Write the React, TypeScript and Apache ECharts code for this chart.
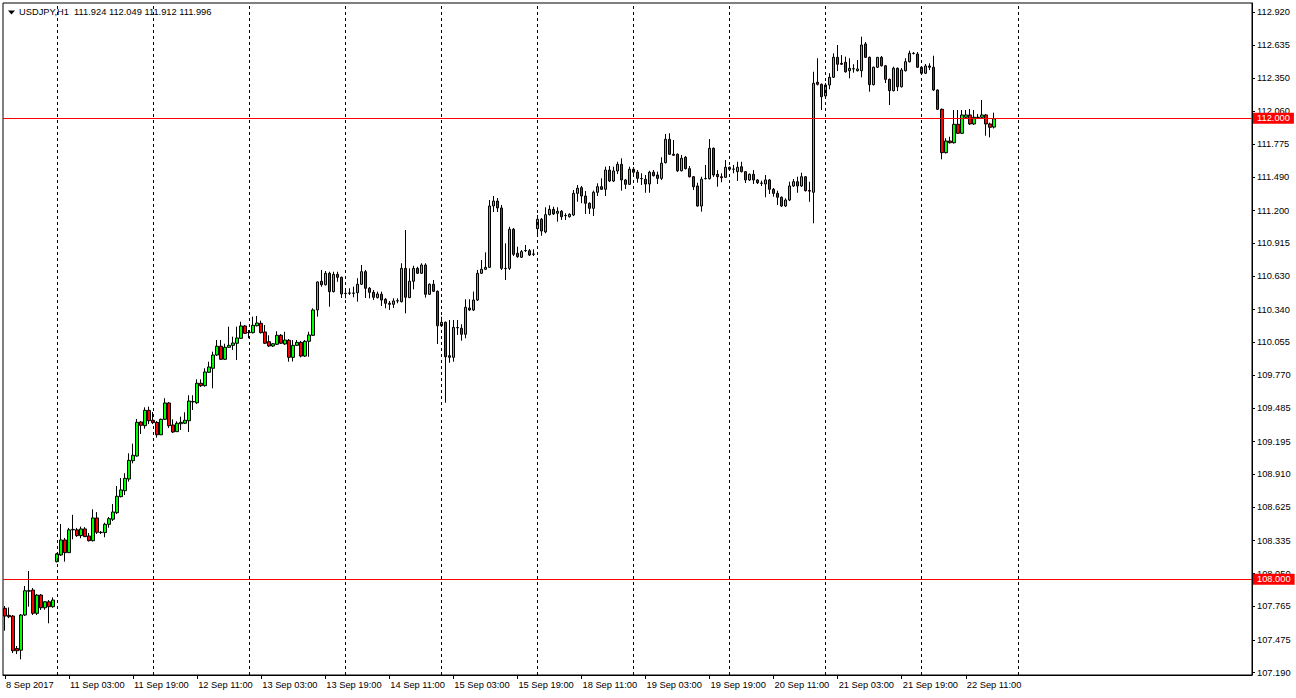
import React, { useEffect, useRef } from 'react';
import * as echarts from 'echarts';

// ---- Data (USDJPY H1) ----
const opens = [
  107.748, 107.687, 107.681, 107.400, 107.385, 107.690, 107.901, 107.907, 107.705, 107.863,
  107.753, 107.805, 107.762, 108.153, 108.211, 108.341, 108.231, 108.429, 108.429, 108.379,
  108.437, 108.376, 108.335, 108.532, 108.408, 108.405, 108.477, 108.521, 108.578, 108.717,
  108.769, 108.870, 109.029, 109.070, 109.365, 109.333, 109.466, 109.380, 109.362, 109.254,
  109.388, 109.530, 109.339, 109.281, 109.350, 109.354, 109.376, 109.539, 109.532, 109.701,
  109.680, 109.796, 109.831, 109.946, 110.022, 109.909, 110.013, 110.030, 110.048, 110.091,
  110.198, 110.143, 110.140, 110.200, 110.221, 110.146, 110.062, 110.024, 110.039, 110.117,
  110.042, 110.074, 109.926, 110.030, 110.056, 109.937, 110.065, 110.117, 110.337, 110.586,
  110.556, 110.655, 110.496, 110.646, 110.620, 110.482, 110.482, 110.482, 110.487, 110.560,
  110.669, 110.525, 110.490, 110.444, 110.473, 110.429, 110.395, 110.386, 110.415, 110.409,
  110.698, 110.444, 110.586, 110.698, 110.655, 110.727, 110.473, 110.560, 110.499, 110.200,
  110.230, 109.940, 109.926, 110.185, 110.178, 110.126, 110.354, 110.337, 110.423, 110.655,
  110.690, 110.707, 111.239, 111.282, 111.222, 110.698, 110.698, 111.037, 110.829, 110.794,
  110.851, 110.851, 110.820, 111.042, 111.124, 111.014, 111.164, 111.210, 111.176, 111.193,
  111.155, 111.146, 111.161, 111.349, 111.398, 111.326, 111.263, 111.219, 111.358, 111.407,
  111.384, 111.551, 111.456, 111.543, 111.601, 111.465, 111.427, 111.558, 111.532, 111.476,
  111.471, 111.430, 111.532, 111.508, 111.479, 111.615, 111.818, 111.688, 111.688, 111.545,
  111.662, 111.563, 111.493, 111.413, 111.239, 111.476, 111.476, 111.740, 111.514, 111.493,
  111.488, 111.575, 111.558, 111.537, 111.580, 111.537, 111.465, 111.514, 111.465, 111.436,
  111.430, 111.465, 111.384, 111.349, 111.315, 111.239, 111.291, 111.413, 111.450, 111.413,
  111.493, 111.374, 111.358, 112.313, 112.295, 112.194, 112.289, 112.356, 112.529, 112.477,
  112.486, 112.413, 112.428, 112.413, 112.413, 112.645, 112.529, 112.292, 112.443, 112.529,
  112.456, 112.338, 112.240, 112.434, 112.274, 112.413, 112.491, 112.564, 112.558, 112.443,
  112.391, 112.454, 112.443, 112.246, 112.078, 111.702, 111.803, 111.788, 111.948, 111.870,
  112.009, 112.029, 111.951, 112.009, 112.009, 112.029, 111.951, 111.924
];
const highs = [
  107.768, 107.756, 107.690, 107.421, 107.698, 107.942, 108.072, 107.924, 107.872, 107.872,
  107.811, 107.820, 107.843, 108.229, 108.480, 108.359, 108.446, 108.559, 108.446, 108.457,
  108.453, 108.402, 108.607, 108.583, 108.419, 108.491, 108.540, 108.653, 108.809, 108.879,
  108.920, 109.093, 109.177, 109.391, 109.373, 109.492, 109.498, 109.452, 109.373, 109.394,
  109.571, 109.538, 109.388, 109.371, 109.411, 109.449, 109.597, 109.597, 109.735, 109.735,
  109.831, 109.888, 109.975, 110.076, 110.076, 110.044, 110.192, 110.105, 110.192, 110.235,
  110.206, 110.163, 110.279, 110.285, 110.244, 110.206, 110.117, 110.050, 110.152, 110.128,
  110.148, 110.085, 110.076, 110.076, 110.068, 110.076, 110.148, 110.351, 110.585, 110.684,
  110.675, 110.669, 110.669, 110.669, 110.627, 110.510, 110.525, 110.539, 110.612, 110.727,
  110.684, 110.536, 110.510, 110.496, 110.496, 110.441, 110.415, 110.438, 110.438, 110.742,
  111.031, 110.698, 110.721, 110.712, 110.742, 110.742, 110.567, 110.597, 110.506, 110.279,
  110.237, 110.250, 110.250, 110.250, 110.213, 110.430, 110.430, 110.496, 110.684, 110.771,
  110.837, 111.291, 111.326, 111.308, 111.248, 110.915, 111.059, 111.048, 110.886, 110.857,
  110.901, 110.866, 110.863, 111.161, 111.135, 111.228, 111.245, 111.233, 111.228, 111.204,
  111.176, 111.176, 111.378, 111.421, 111.413, 111.369, 111.270, 111.372, 111.436, 111.479,
  111.580, 111.586, 111.580, 111.623, 111.653, 111.473, 111.580, 111.577, 111.551, 111.523,
  111.508, 111.545, 111.551, 111.537, 111.662, 111.864, 111.870, 111.812, 111.695, 111.682,
  111.673, 111.586, 111.499, 111.441, 111.493, 111.595, 111.820, 111.747, 111.551, 111.523,
  111.638, 111.582, 111.595, 111.623, 111.623, 111.543, 111.521, 111.551, 111.473, 111.459,
  111.508, 111.473, 111.395, 111.372, 111.322, 111.306, 111.450, 111.473, 111.493, 111.528,
  111.499, 111.450, 112.404, 112.521, 112.302, 112.306, 112.391, 112.564, 112.636, 112.549,
  112.535, 112.521, 112.469, 112.506, 112.708, 112.662, 112.536, 112.449, 112.532, 112.541,
  112.463, 112.345, 112.448, 112.441, 112.436, 112.521, 112.587, 112.575, 112.575, 112.449,
  112.471, 112.477, 112.543, 112.250, 112.085, 111.827, 111.840, 112.072, 112.072, 112.072,
  112.072, 112.081, 112.072, 112.037, 112.159, 112.037, 111.962, 112.049
];
const lows = [
  107.554, 107.663, 107.360, 107.351, 107.305, 107.681, 107.762, 107.690, 107.690, 107.733,
  107.736, 107.618, 107.753, 108.146, 108.203, 108.153, 108.229, 108.347, 108.368, 108.356,
  108.368, 108.328, 108.328, 108.393, 108.393, 108.365, 108.448, 108.506, 108.566, 108.711,
  108.731, 108.847, 109.006, 109.064, 109.261, 109.307, 109.347, 109.347, 109.229, 109.252,
  109.382, 109.313, 109.269, 109.278, 109.295, 109.347, 109.278, 109.469, 109.521, 109.669,
  109.671, 109.790, 109.657, 109.937, 109.903, 109.903, 110.007, 109.990, 109.903, 110.085,
  110.128, 110.091, 110.133, 110.194, 110.133, 110.042, 110.016, 110.016, 110.033, 110.042,
  110.033, 109.888, 109.890, 110.024, 109.926, 109.929, 109.931, 110.111, 110.279, 110.539,
  110.549, 110.365, 110.489, 110.582, 110.441, 110.438, 110.467, 110.447, 110.409, 110.554,
  110.441, 110.438, 110.423, 110.437, 110.371, 110.351, 110.337, 110.354, 110.395, 110.402,
  110.308, 110.441, 110.516, 110.649, 110.649, 110.444, 110.467, 110.493, 110.042, 110.189,
  109.532, 109.879, 109.888, 110.120, 110.070, 110.091, 110.328, 110.328, 110.415, 110.649,
  110.684, 110.701, 111.187, 111.187, 110.684, 110.597, 110.684, 110.805, 110.790, 110.788,
  110.840, 110.805, 110.805, 110.987, 110.981, 111.002, 111.157, 111.161, 111.103, 111.118,
  111.118, 111.139, 111.152, 111.276, 111.263, 111.170, 111.170, 111.152, 111.326, 111.378,
  111.326, 111.447, 111.447, 111.517, 111.372, 111.387, 111.421, 111.517, 111.441, 111.421,
  111.354, 111.354, 111.495, 111.430, 111.465, 111.608, 111.682, 111.673, 111.534, 111.539,
  111.556, 111.486, 111.378, 111.233, 111.190, 111.469, 111.469, 111.491, 111.407, 111.445,
  111.482, 111.551, 111.523, 111.456, 111.530, 111.439, 111.456, 111.430, 111.430, 111.413,
  111.315, 111.343, 111.320, 111.248, 111.230, 111.230, 111.282, 111.404, 111.354, 111.404,
  111.365, 111.276, 111.089, 112.285, 112.072, 112.174, 112.252, 112.350, 112.410, 112.463,
  112.396, 112.347, 112.396, 112.406, 112.356, 112.523, 112.231, 112.285, 112.437, 112.449,
  112.306, 112.115, 112.233, 112.237, 112.267, 112.406, 112.484, 112.554, 112.437, 112.384,
  112.384, 112.419, 112.237, 112.072, 111.644, 111.695, 111.781, 111.781, 111.864, 111.864,
  112.003, 111.942, 111.942, 111.998, 112.003, 111.849, 111.835, 111.912
];
const closes = [
  107.681, 107.675, 107.380, 107.380, 107.690, 107.901, 107.897, 107.705, 107.863, 107.753,
  107.805, 107.762, 107.820, 108.220, 108.341, 108.231, 108.429, 108.433, 108.379, 108.437,
  108.370, 108.335, 108.532, 108.408, 108.405, 108.477, 108.526, 108.584, 108.720, 108.775,
  108.876, 109.032, 109.076, 109.362, 109.336, 109.466, 109.376, 109.359, 109.254, 109.388,
  109.530, 109.333, 109.278, 109.354, 109.362, 109.380, 109.547, 109.543, 109.701, 109.680,
  109.799, 109.842, 109.946, 110.022, 109.909, 110.013, 110.030, 110.050, 110.094, 110.198,
  110.134, 110.140, 110.204, 110.224, 110.140, 110.048, 110.024, 110.044, 110.117, 110.048,
  110.076, 109.926, 110.030, 110.056, 109.937, 110.065, 110.120, 110.337, 110.580, 110.556,
  110.655, 110.496, 110.646, 110.620, 110.476, 110.479, 110.485, 110.484, 110.560, 110.669,
  110.525, 110.490, 110.447, 110.476, 110.423, 110.395, 110.386, 110.415, 110.417, 110.698,
  110.447, 110.586, 110.698, 110.655, 110.727, 110.473, 110.560, 110.499, 110.200, 110.230,
  109.931, 109.926, 110.186, 110.182, 110.126, 110.360, 110.337, 110.423, 110.655, 110.690,
  110.707, 111.239, 111.282, 111.222, 110.698, 110.695, 111.037, 110.820, 110.799, 110.843,
  110.853, 110.814, 110.823, 111.124, 111.022, 111.164, 111.210, 111.170, 111.193, 111.146,
  111.157, 111.167, 111.349, 111.393, 111.326, 111.263, 111.219, 111.358, 111.407, 111.384,
  111.551, 111.456, 111.543, 111.601, 111.465, 111.427, 111.558, 111.532, 111.479, 111.478,
  111.430, 111.532, 111.502, 111.479, 111.610, 111.818, 111.688, 111.679, 111.545, 111.653,
  111.563, 111.493, 111.406, 111.239, 111.471, 111.478, 111.740, 111.508, 111.493, 111.485,
  111.575, 111.558, 111.559, 111.575, 111.537, 111.465, 111.514, 111.465, 111.441, 111.438,
  111.465, 111.384, 111.349, 111.315, 111.239, 111.291, 111.413, 111.450, 111.413, 111.493,
  111.372, 111.368, 112.304, 112.295, 112.187, 112.289, 112.356, 112.529, 112.469, 112.469,
  112.404, 112.434, 112.430, 112.428, 112.636, 112.529, 112.292, 112.443, 112.529, 112.456,
  112.338, 112.240, 112.434, 112.274, 112.419, 112.491, 112.564, 112.562, 112.443, 112.391,
  112.454, 112.443, 112.246, 112.078, 111.702, 111.803, 111.788, 111.948, 111.870, 112.029,
  112.029, 111.951, 112.009, 112.007, 112.029, 111.951, 111.922, 111.996
];

// ---- Time axis ----
const tradingDays = ['8 Sep', '11 Sep', '12 Sep', '13 Sep', '14 Sep', '15 Sep', '18 Sep', '19 Sep',
  '20 Sep', '21 Sep', '22 Sep', '25 Sep', '26 Sep', '27 Sep'];
const FIRST_HOUR = 11;
const SLOT_COUNT = 312;
const X_TICK_STEP = 16;
const xTickLabels = ['8 Sep 2017', '11 Sep 03:00', '11 Sep 19:00', '12 Sep 11:00', '13 Sep 03:00',
  '13 Sep 19:00', '14 Sep 11:00', '15 Sep 03:00', '15 Sep 19:00', '18 Sep 11:00', '19 Sep 03:00',
  '19 Sep 19:00', '20 Sep 11:00', '21 Sep 03:00', '21 Sep 19:00', '22 Sep 11:00'];
const separatorDays = ['11 Sep', '12 Sep', '13 Sep', '14 Sep', '15 Sep', '18 Sep', '19 Sep', '20 Sep',
  '21 Sep', '22 Sep', '25 Sep'];

// ---- Price axis ----
const yTickLabels = ['107.190', '107.475', '107.765', '108.050', '108.335', '108.625', '108.910',
  '109.195', '109.485', '109.770', '110.055', '110.340', '110.630', '110.915', '111.200', '111.490',
  '111.775', '112.060', '112.350', '112.635', '112.920'];
const Y_MIN = 107.1695;
const Y_MAX = 113.0005;
const levelLines = [112.0, 108.0];
const titleText = 'USDJPY,H1  111.924 112.049 111.912 111.996';

const FONT = "'Liberation Sans', Arial, sans-serif";
const FS = 9.3;

function buildCategories(): string[] {
  const out: string[] = [];
  tradingDays.forEach((d, di) => {
    for (let h = di === 0 ? FIRST_HOUR : 0; h < 24; h++) {
      out.push(`${d} ${h < 10 ? '0' + h : h}:00`);
    }
  });
  return out.slice(0, SLOT_COUNT);
}

export default function App() {
  const ref = useRef<HTMLDivElement>(null);

  useEffect(() => {
    if (!ref.current) return;
    const chart = echarts.init(ref.current, null, { renderer: 'svg' });
    const categories = buildCategories();
    const candles = opens.map((o, i) => [o, closes[i], lows[i], highs[i]]);
    const n = opens.length;
    const showTick = (i: number) => i % X_TICK_STEP === 0 && i < n;
    const yTickValues = yTickLabels.map((s) => parseFloat(s));

    chart.setOption({
      animation: false,
      backgroundColor: '#ffffff',
      title: {
        text: titleText,
        left: 19,
        top: 7,
        padding: 0,
        textStyle: { fontFamily: FONT, fontSize: FS, fontWeight: 'normal', color: '#000000' },
      },
      graphic: [
        {
          type: 'polygon',
          shape: { points: [[8, 10.5], [15, 10.5], [11.5, 14.5]] },
          style: { fill: '#000000' },
        },
      ],
      grid: {
        left: 3,
        right: 44,
        top: 3,
        bottom: 23,
        show: true,
        borderColor: '#000000',
        borderWidth: 1,
        backgroundColor: '#ffffff',
        containLabel: false,
      },
      xAxis: {
        type: 'category',
        data: categories,
        boundaryGap: true,
        axisLine: { show: true, lineStyle: { color: '#000000', width: 1 } },
        axisTick: {
          show: true,
          alignWithLabel: true,
          length: 4,
          interval: (i: number) => showTick(i),
          lineStyle: { color: '#000000' },
        },
        axisLabel: {
          interval: (i: number) => showTick(i),
          align: 'left',
          margin: 5,
          padding: [0, 0, 0, 1],
          color: '#000000',
          fontFamily: FONT,
          fontSize: FS,
          formatter: (_v: string, i: number) => xTickLabels[i / X_TICK_STEP] ?? '',
        },
        splitLine: { show: false },
      },
      yAxis: {
        type: 'value',
        position: 'right',
        min: Y_MIN,
        max: Y_MAX,
        axisLine: { show: true, lineStyle: { color: '#000000', width: 1 } },
        axisTick: { show: true, length: 3, customValues: yTickValues, lineStyle: { color: '#000000' } },
        axisLabel: {
          customValues: yTickValues,
          margin: 5,
          color: '#000000',
          fontFamily: FONT,
          fontSize: FS,
          formatter: (v: number) => v.toFixed(3),
        },
        splitLine: { show: false },
      },
      series: [
        {
          type: 'candlestick',
          data: candles,
          barWidth: 3,
          itemStyle: {
            color: '#00ff00',
            color0: '#ff0000',
            borderColor: '#000000',
            borderColor0: '#000000',
            borderWidth: 1,
          },
          markLine: {
            symbol: ['none', 'none'],
            silent: true,
            animation: false,
            label: { show: false },
            data: [
              ...separatorDays.map((d) => ({
                xAxis: `${d} 00:00`,
                lineStyle: { color: '#000000', type: [3, 3], width: 1 },
                label: { show: false },
              })),
              ...levelLines.map((v) => ({
                yAxis: v,
                lineStyle: { color: '#ff0000', type: 'solid', width: 1 },
                label: {
                  show: true,
                  position: 'end',
                  distance: 1,
                  formatter: v.toFixed(3),
                  color: '#ffffff',
                  backgroundColor: '#ff0000',
                  fontFamily: FONT,
                  fontSize: FS,
                  lineHeight: 11,
                  padding: [0, 4, 0, 4],
                },
              })),
            ],
          },
        },
      ],
    });

    return () => chart.dispose();
  }, []);

  return (
    <div
      ref={ref}
      style={{ position: 'absolute', left: 0, top: 0, width: 1296, height: 698, background: '#ffffff' }}
    />
  );
}
